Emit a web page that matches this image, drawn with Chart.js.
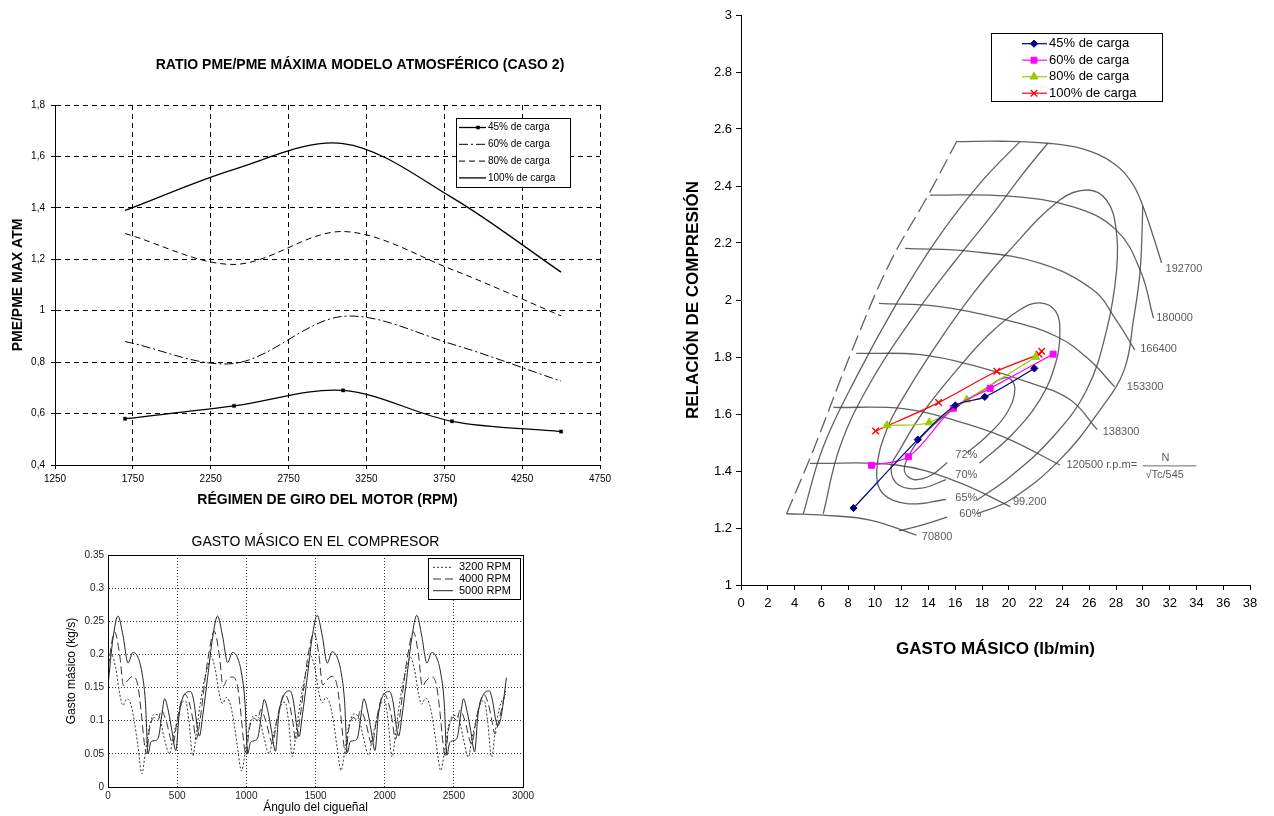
<!DOCTYPE html>
<html>
<head>
<meta charset="utf-8">
<script src="https://cdn.jsdelivr.net/npm/chart.js@4.4.1/dist/chart.umd.min.js"></script>
<style>
  html, body { margin: 0; padding: 0; background: #fff; }
  body { width: 1274px; height: 816px; position: relative; overflow: hidden; }
  canvas { position: absolute; }
  #pme { left: 0; top: 0; }
  #gasto { left: 40px; top: 525px; }
  #mapa { left: 660px; top: 0; }
</style>
</head>
<body>
<canvas id="pme" width="620" height="520"></canvas>
<canvas id="gasto" width="500" height="291"></canvas>
<canvas id="mapa" width="614" height="680"></canvas>
<script>
// ---- ratio PME chart ----
const rpm = [1700, 2400, 3100, 3800, 4500];
const pme45 = [0.58, 0.63, 0.69, 0.57, 0.53];
const pme60 = [0.88, 0.795, 0.978, 0.87, 0.726];
const pme80 = [1.30, 1.18, 1.308, 1.16, 0.98];
const pme100 = [1.39, 1.55, 1.65, 1.44, 1.15];
const rpmTicks = [1250, 1750, 2250, 2750, 3250, 3750, 4250, 4750];
const pmeTicks = [0.4, 0.6, 0.8, 1, 1.2, 1.4, 1.6, 1.8];
const pmeLabels = ['0,4', '0,6', '0,8', '1', '1,2', '1,4', '1,6', '1,8'];
const loadNames = ['45% de carga', '60% de carga', '80% de carga', '100% de carga'];

// ---- gasto masico (compresor) chart ----
const ang3200 = [0,25,55,85,108,135,165,192,216,245,270,300,337,373,405,445,470,500,530,560,585,613,640,670,700,
  720,745,775,805,828,855,885,912,936,965,990,1020,1057,1093,1125,1165,1190,1220,1250,1280,1305,1333,1360,1390,1420,
  1440,1465,1495,1525,1548,1575,1605,1632,1656,1685,1710,1740,1777,1813,1845,1885,1910,1940,1970,2000,2025,2053,2080,2110,2140,
  2160,2185,2215,2245,2268,2295,2325,2352,2376,2405,2430,2460,2497,2533,2565,2605,2630,2660,2690,2720,2745,2773,2800,2830,2875];
const flow3200 = [0.185,0.2,0.18,0.14,0.123,0.133,0.125,0.097,0.062,0.02,0.052,0.092,0.11,0.105,0.075,0.05,0.075,0.1,0.125,0.13,0.1,0.047,0.085,0.13,0.165,
  0.18,0.197,0.178,0.14,0.126,0.135,0.124,0.095,0.06,0.024,0.05,0.09,0.108,0.104,0.077,0.05,0.073,0.1,0.123,0.128,0.1,0.046,0.083,0.128,0.163,
  0.18,0.198,0.18,0.142,0.127,0.135,0.125,0.096,0.06,0.025,0.052,0.091,0.11,0.104,0.076,0.048,0.074,0.1,0.124,0.13,0.1,0.045,0.082,0.13,0.165,
  0.18,0.196,0.178,0.14,0.125,0.134,0.124,0.095,0.06,0.025,0.05,0.09,0.108,0.105,0.077,0.045,0.072,0.1,0.125,0.13,0.098,0.045,0.085,0.12,0.14];
const ang4000 = [0,48,84,112,140,180,216,240,262,278,300,337,360,385,420,469,500,530,555,590,615,637,665,700,
  720,768,804,832,860,900,936,960,982,998,1020,1057,1080,1105,1140,1189,1220,1250,1275,1310,1335,1357,1385,1420,
  1440,1488,1524,1552,1580,1620,1656,1680,1702,1718,1740,1777,1800,1825,1860,1909,1940,1970,1995,2030,2055,2077,2105,2140,
  2160,2208,2244,2272,2300,2340,2376,2400,2422,2438,2460,2497,2520,2545,2580,2629,2660,2690,2715,2750,2775,2797,2825,2875];
const flow4000 = [0.18,0.234,0.2,0.153,0.16,0.167,0.153,0.113,0.067,0.05,0.087,0.105,0.1,0.116,0.1,0.065,0.1,0.13,0.14,0.125,0.1,0.072,0.1,0.16,
  0.19,0.235,0.2,0.152,0.162,0.166,0.152,0.112,0.066,0.048,0.086,0.104,0.1,0.117,0.1,0.066,0.1,0.128,0.14,0.126,0.1,0.07,0.1,0.158,
  0.19,0.233,0.2,0.154,0.161,0.167,0.153,0.114,0.068,0.05,0.087,0.105,0.1,0.115,0.1,0.064,0.1,0.13,0.141,0.125,0.1,0.072,0.1,0.16,
  0.19,0.234,0.2,0.152,0.16,0.166,0.152,0.112,0.066,0.045,0.085,0.105,0.1,0.116,0.1,0.065,0.1,0.128,0.14,0.125,0.1,0.08,0.1,0.145];
const ang5000 = [0,36,72,108,145,180,216,245,270,290,310,340,365,390,409,438,462,490,515,548,596,620,644,661,685,
  720,756,792,828,865,900,936,965,990,1010,1030,1060,1085,1110,1129,1158,1182,1210,1235,1268,1316,1340,1364,1381,1405,
  1440,1476,1512,1548,1585,1620,1656,1685,1710,1730,1750,1780,1805,1830,1849,1878,1902,1930,1955,1988,2036,2060,2084,2101,2125,
  2160,2196,2232,2268,2305,2340,2376,2405,2430,2450,2470,2500,2525,2550,2569,2598,2622,2650,2675,2708,2756,2780,2804,2821,2845,2880];
const flow5000 = [0.153,0.224,0.258,0.229,0.187,0.203,0.196,0.173,0.13,0.05,0.068,0.07,0.075,0.11,0.133,0.113,0.085,0.055,0.11,0.138,0.144,0.13,0.092,0.077,0.108,
  0.165,0.225,0.258,0.228,0.188,0.203,0.195,0.172,0.128,0.05,0.067,0.07,0.076,0.11,0.132,0.112,0.085,0.054,0.11,0.137,0.145,0.13,0.093,0.076,0.108,
  0.165,0.226,0.259,0.229,0.187,0.204,0.196,0.173,0.13,0.052,0.068,0.07,0.075,0.11,0.133,0.113,0.086,0.055,0.11,0.138,0.144,0.129,0.092,0.077,0.107,
  0.165,0.225,0.259,0.228,0.187,0.203,0.195,0.172,0.129,0.048,0.067,0.07,0.075,0.11,0.133,0.112,0.085,0.053,0.11,0.137,0.145,0.13,0.1,0.093,0.11,0.165];
const angleTicks = [0, 500, 1000, 1500, 2000, 2500, 3000];
const flowTicks = [0, 0.05, 0.1, 0.15, 0.2, 0.25, 0.3, 0.35];
const rpmNames = ['3200 RPM', '4000 RPM', '5000 RPM'];

// ---- mapa del compresor ----
const mass45 = [8.4, 13.2, 16.0, 18.2, 21.9];
const ratio45 = [1.27, 1.51, 1.63, 1.66, 1.76];
const mass60 = [9.75, 12.5, 15.85, 18.6, 23.3];
const ratio60 = [1.42, 1.45, 1.62, 1.69, 1.81];
const mass80 = [10.9, 14.05, 16.85, 22.0];
const ratio80 = [1.56, 1.57, 1.65, 1.80];
const mass100 = [10.05, 14.75, 19.1, 22.25, 22.45];
const ratio100 = [1.54, 1.64, 1.75, 1.81, 1.82];
const massTicks = [0,2,4,6,8,10,12,14,16,18,20,22,24,26,28,30,32,34,36,38];
const ratioTicks = [1, 1.2, 1.4, 1.6, 1.8, 2, 2.2, 2.4, 2.6, 2.8, 3];

// lineas del mapa escaneado (lb/min, relacion)
const surgeLine = [[3.4,1.25],[5.4,1.474],[8.4,1.836],[11.1,2.129],[13.9,2.362],[16.1,2.556]];
const speed192700 = [[16.1,2.556],[19.5,2.557],[22.9,2.55],[25.5,2.53],[27.8,2.48],[29.2,2.41],[30.0,2.33],[30.8,2.22],[31.4,2.13]];
const speed180000 = [[14.1,2.368],[19.8,2.365],[24.8,2.327],[28.0,2.246],[29.8,2.105],[30.8,1.936]];
const speed166400 = [[12.24,2.181],[17.3,2.17],[22.3,2.129],[26.3,2.035],[28.0,1.93],[29.4,1.825]];
const speed153300 = [[10.3,1.988],[14.85,1.977],[19.8,1.93],[23.6,1.871],[26.0,1.79],[27.9,1.695]];
const speed138300 = [[8.6,1.813],[13.4,1.808],[17.6,1.767],[21.6,1.709],[24.6,1.649],[26.6,1.545]];
const speed120500 = [[6.9,1.623],[12.1,1.619],[15.85,1.579],[19.6,1.52],[23.8,1.421]];
const speed99200 = [[5.15,1.427],[11.6,1.421],[16.1,1.363],[20.1,1.275]];
const speed70800 = [[3.4,1.25],[6.14,1.245],[9.63,1.228],[13.1,1.175]];
const effA = [[4.65,1.25],[6.14,1.485],[8.63,1.731],[11.62,1.988],[14.6,2.211],[17.84,2.409],[20.8,2.555]];
const effB = [[6.14,1.25],[7.39,1.485],[9.63,1.708],[12.86,1.941],[15.85,2.129],[18.83,2.304],[21.0,2.44],[22.9,2.55]];
const eff60 = [[30.0,2.33],[29.8,2.105],[29.3,1.93],[28.6,1.754],[26.8,1.614],[23.8,1.439],[20.1,1.298],[17.6,1.25]];
const eff60low = [[15.4,1.238],[13.5,1.21],[11.8,1.19]];
const eff65 = [[15.3,1.30],[12.5,1.285],[10.6,1.32],[10.13,1.40],[10.87,1.544],[12.4,1.68],[14.85,1.86],[17.34,2.023],[19.83,2.163],
  [23.8,2.351],[25.9,2.386],[27.3,2.35],[28.0,2.25],[28.04,2.105],[27.3,1.895],[25.8,1.684],[23.3,1.52],[20.07,1.379],[17.6,1.297]];
const eff70 = [[15.3,1.37],[13.5,1.34],[11.8,1.35],[11.2,1.41],[11.8,1.47],[13.5,1.6],[16.1,1.754],[18.6,1.883],[20.8,1.965],
  [22.3,1.99],[23.5,1.96],[23.8,1.88],[23.5,1.78],[22.3,1.649],[20.07,1.52],[17.8,1.427]];
const eff72 = [[15.4,1.43],[14.2,1.385],[12.9,1.37],[12.2,1.4],[12.6,1.46],[13.5,1.52],[15.35,1.6],[18.1,1.684],[19.8,1.728],
  [20.45,1.69],[19.8,1.6],[18.3,1.52],[16.9,1.465]];

const mapNotes = [
  ['192700', 31.7, 2.11], ['180000', 31.0, 1.936], ['166400', 29.8, 1.828], ['153300', 28.8, 1.694],
  ['138300', 27.0, 1.538], ['120500 r.p.m=', 24.3, 1.42], ['99.200', 20.3, 1.292], ['70800', 13.5, 1.17],
  ['72%', 16.0, 1.456], ['70%', 16.0, 1.386], ['65%', 16.0, 1.304], ['60%', 16.3, 1.25],
  ['N', 31.4, 1.447], ['\u221ATc/545', 30.2, 1.386]
];

const FONT = "Arial, 'Liberation Sans', sans-serif";
Chart.defaults.font.family = FONT;
Chart.defaults.color = '#000';

const pair = (xs, ys) => xs.map((x, i) => ({x: x, y: ys[i]}));
const pts = list => list.map(p => ({x: p[0], y: p[1]}));
const fixedTicks = values => scale => { scale.ticks = values.map(v => ({value: v})); };
const plain = v => String(Math.round(v * 100) / 100);

function drawMarker(ctx, ds, x, y) {
  if (!ds.pointRadius) return;
  ctx.save();
  ctx.setLineDash([]);
  ctx.fillStyle = ds.pointBackgroundColor || ds.borderColor;
  ctx.strokeStyle = ds.pointBorderColor || ds.borderColor;
  ctx.lineWidth = ds.pointBorderWidth || 1;
  Chart.helpers.drawPoint(ctx, {pointStyle: ds.pointStyle, radius: ds.pointRadius, rotation: 0, borderWidth: ds.pointBorderWidth || 1}, x, y);
  ctx.restore();
}

// legend drawn as a box at a fixed place in the canvas
const boxLegend = {
  id: 'boxLegend',
  afterDraw(chart, args, opts) {
    const ctx = chart.ctx;
    ctx.save();
    ctx.fillStyle = '#fff';
    ctx.fillRect(opts.left, opts.top, opts.width, opts.height);
    ctx.strokeStyle = '#000';
    ctx.lineWidth = 1;
    ctx.setLineDash([]);
    ctx.strokeRect(opts.left + 0.5, opts.top + 0.5, opts.width, opts.height);
    ctx.font = opts.fontSize + 'px ' + FONT;
    ctx.textBaseline = 'middle';
    for (let i = 0; i < opts.count; i++) {
      const ds = chart.data.datasets[i];
      const y = opts.top + opts.first + i * opts.gap;
      ctx.strokeStyle = ds.borderColor;
      ctx.lineWidth = ds.borderWidth;
      ctx.setLineDash(ds.borderDash || []);
      ctx.beginPath();
      ctx.moveTo(opts.left + opts.lineFrom, y);
      ctx.lineTo(opts.left + opts.lineTo, y);
      ctx.stroke();
      drawMarker(ctx, ds, opts.left + opts.markAt, y);
      ctx.fillStyle = '#000';
      ctx.fillText(ds.label, opts.left + opts.textFrom, y);
    }
    ctx.restore();
  }
};

const chartTitle = {
  id: 'chartTitle',
  afterDraw(chart, args, opts) {
    const ctx = chart.ctx;
    ctx.save();
    ctx.font = opts.font;
    ctx.fillStyle = '#000';
    ctx.textAlign = 'center';
    ctx.textBaseline = 'middle';
    ctx.fillText(opts.text, opts.x, opts.y);
    ctx.restore();
  }
};

const frame = {
  id: 'frame',
  afterDatasetsDraw(chart) {
    const {ctx, chartArea: a} = chart;
    ctx.save();
    ctx.strokeStyle = '#000';
    ctx.lineWidth = 1;
    ctx.setLineDash([]);
    ctx.strokeRect(Math.round(a.left) + 0.5, Math.round(a.top) + 0.5, Math.round(a.right - a.left), Math.round(a.bottom - a.top));
    ctx.restore();
  }
};

const mapText = {
  id: 'mapText',
  beforeDatasetsDraw(chart) {
    const {ctx, scales: {x, y}} = chart;
    ctx.save();
    ctx.font = '11px ' + FONT;
    ctx.fillStyle = '#5a5a5a';
    ctx.textBaseline = 'middle';
    mapNotes.forEach(n => ctx.fillText(n[0], x.getPixelForValue(n[1]), y.getPixelForValue(n[2])));
    ctx.strokeStyle = '#6a6a6a';
    ctx.lineWidth = 1;
    ctx.beginPath();
    ctx.moveTo(x.getPixelForValue(30.0), y.getPixelForValue(1.418));
    ctx.lineTo(x.getPixelForValue(34.0), y.getPixelForValue(1.418));
    ctx.stroke();
    ctx.restore();
  }
};

// ================= chart 1 =================
new Chart(document.getElementById('pme'), {
  type: 'line',
  data: {
    datasets: [
      {label: loadNames[0], data: pair(rpm, pme45), borderColor: '#000', borderWidth: 1.3, tension: 0.33,
        pointStyle: 'rect', pointRadius: 2.2, pointBackgroundColor: '#000', pointBorderColor: '#000', pointBorderWidth: 0.5},
      {label: loadNames[1], data: pair(rpm, pme60), borderColor: '#000', borderWidth: 1, borderDash: [9, 3, 2, 3], tension: 0.33, pointRadius: 0},
      {label: loadNames[2], data: pair(rpm, pme80), borderColor: '#000', borderWidth: 1, borderDash: [6, 4], tension: 0.33, pointRadius: 0},
      {label: loadNames[3], data: pair(rpm, pme100), borderColor: '#000', borderWidth: 1.3, tension: 0.33, pointRadius: 0}
    ]
  },
  options: {
    responsive: false, animation: false, events: [], devicePixelRatio: 1,
    layout: {padding: {top: 105, right: 20, left: 0, bottom: 0}},
    plugins: {
      legend: {display: false}, tooltip: {enabled: false},
      chartTitle: {text: 'RATIO PME/PME MÁXIMA MODELO ATMOSFÉRICO (CASO 2)', x: 360, y: 65, font: 'bold 14px ' + FONT},
      boxLegend: {left: 456, top: 118, width: 114, height: 69, first: 9.5, gap: 16.8, lineFrom: 3, lineTo: 30, markAt: 22, textFrom: 32, fontSize: 10, count: 4}
    },
    scales: {
      x: {
        type: 'linear', min: 1250, max: 4750,
        afterBuildTicks: fixedTicks(rpmTicks),
        afterFit: s => { s.height = 55; },
        ticks: {font: {size: 10}, color: '#000', padding: 4, maxRotation: 0, autoSkip: false, callback: plain},
        grid: {color: '#000', lineWidth: 1, tickLength: 4, tickColor: '#000'},
        border: {color: '#000', width: 1, dash: [5, 4]},
        title: {display: true, text: 'RÉGIMEN DE GIRO DEL MOTOR (RPM)', color: '#000', font: {size: 14, weight: 'bold'}, padding: {top: 0, bottom: 11.6}}
      },
      y: {
        type: 'linear', min: 0.4, max: 1.8,
        afterBuildTicks: fixedTicks(pmeTicks),
        afterFit: s => { s.width = 55; },
        ticks: {font: {size: 10}, color: '#000', padding: 6, callback: (v, i) => pmeLabels[i]},
        grid: {color: '#000', lineWidth: 1, tickLength: 4, tickColor: '#000'},
        border: {color: '#000', width: 1, dash: [5, 4]},
        title: {display: true, text: 'PME/PME MAX ATM', color: '#000', font: {size: 14, weight: 'bold'}, padding: {top: 9.6, bottom: 0}}
      }
    }
  },
  plugins: [boxLegend, chartTitle]
});

// ================= chart 2 =================
new Chart(document.getElementById('gasto'), {
  type: 'line',
  data: {
    datasets: [
      {label: rpmNames[0], data: pair(ang3200, flow3200), borderColor: '#333', borderWidth: 1, borderDash: [2, 2], pointRadius: 0, cubicInterpolationMode: 'monotone'},
      {label: rpmNames[1], data: pair(ang4000, flow4000), borderColor: '#333', borderWidth: 1, borderDash: [8, 4], pointRadius: 0, cubicInterpolationMode: 'monotone'},
      {label: rpmNames[2], data: pair(ang5000, flow5000), borderColor: '#222', borderWidth: 1, pointRadius: 0, cubicInterpolationMode: 'monotone'}
    ]
  },
  options: {
    responsive: false, animation: false, events: [], devicePixelRatio: 1,
    layout: {padding: {top: 0, right: 17, left: 0, bottom: 0}},
    plugins: {
      legend: {display: false}, tooltip: {enabled: false},
      title: {display: true, fullSize: false, text: 'GASTO MÁSICO EN EL COMPRESOR', color: '#000', font: {size: 14, weight: 'normal'}, padding: {top: 8.6, bottom: 4.6}},
      boxLegend: {left: 388, top: 33, width: 92, height: 41, first: 9.3, gap: 11.7, lineFrom: 5, lineTo: 25, markAt: 15, textFrom: 31, fontSize: 11, count: 3}
    },
    scales: {
      x: {
        type: 'linear', min: 0, max: 3000,
        afterBuildTicks: fixedTicks(angleTicks),
        afterFit: s => { s.height = 29; },
        ticks: {font: {size: 10}, color: '#222', padding: 3, maxRotation: 0, autoSkip: false, callback: plain},
        grid: {color: '#000', lineWidth: 0.8, drawTicks: false},
        border: {color: '#000', width: 1, dash: [1, 2]},
        title: {display: true, text: 'Ángulo del cigueñal', color: '#000', font: {size: 12}, padding: {top: 0, bottom: 0.8}}
      },
      y: {
        type: 'linear', min: 0, max: 0.35,
        afterBuildTicks: fixedTicks(flowTicks),
        afterFit: s => { s.width = 68; },
        ticks: {font: {size: 10}, color: '#222', padding: 4, callback: plain},
        grid: {color: '#000', lineWidth: 0.8, drawTicks: false},
        border: {color: '#000', width: 1, dash: [1, 2]},
        title: {display: true, text: 'Gasto másico (kg/s)', color: '#000', font: {size: 12}, padding: {top: 24.8, bottom: 0}}
      }
    }
  },
  plugins: [boxLegend, frame]
});

// ================= chart 3 =================
const mapStyle = {borderColor: 'rgba(70,70,70,0.85)', borderWidth: 1.3, pointRadius: 0, tension: 0.4};
const mapLines = [speed192700, speed180000, speed166400, speed153300, speed138300, speed120500, speed99200, speed70800,
  effA, effB, eff60, eff60low, eff65, eff70, eff72].map(l => Object.assign({label: '', data: pts(l)}, mapStyle));
mapLines.push(Object.assign({label: '', data: pts(surgeLine)}, mapStyle, {borderDash: [16, 6]}));

new Chart(document.getElementById('mapa'), {
  type: 'line',
  data: {
    datasets: [
      {label: loadNames[0], data: pair(mass45, ratio45), borderColor: '#000080', borderWidth: 1.2, tension: 0.33,
        pointStyle: 'rectRot', pointRadius: 3.6, pointBackgroundColor: '#000080', pointBorderColor: '#000080', pointBorderWidth: 1},
      {label: loadNames[1], data: pair(mass60, ratio60), borderColor: '#FF00FF', borderWidth: 1.2, tension: 0.33,
        pointStyle: 'rect', pointRadius: 4.2, pointBackgroundColor: '#FF00FF', pointBorderColor: '#FF00FF', pointBorderWidth: 1},
      {label: loadNames[2], data: pair(mass80, ratio80), borderColor: '#99CC00', borderWidth: 1.2, tension: 0.33,
        pointStyle: 'triangle', pointRadius: 4.6, pointBackgroundColor: '#99CC00', pointBorderColor: '#99CC00', pointBorderWidth: 1},
      {label: loadNames[3], data: pair(mass100, ratio100), borderColor: '#FF0000', borderWidth: 1.2, tension: 0.33,
        pointStyle: 'crossRot', pointRadius: 4.6, pointBackgroundColor: '#FF0000', pointBorderColor: '#FF0000', pointBorderWidth: 1.4}
    ].concat(mapLines)
  },
  options: {
    responsive: false, animation: false, events: [], devicePixelRatio: 1,
    layout: {padding: {top: 15, right: 24, left: 0, bottom: 0}},
    plugins: {
      legend: {display: false}, tooltip: {enabled: false},
      boxLegend: {left: 331, top: 33, width: 171, height: 68, first: 10.7, gap: 16.5, lineFrom: 31, lineTo: 56, markAt: 43, textFrom: 58, fontSize: 13, count: 4}
    },
    scales: {
      x: {
        type: 'linear', min: 0, max: 38,
        afterBuildTicks: fixedTicks(massTicks),
        afterFit: s => { s.height = 95; },
        ticks: {font: {size: 13}, color: '#000', padding: 6, maxRotation: 0, autoSkip: false, callback: plain},
        grid: {drawOnChartArea: false, tickLength: 5, tickColor: '#000'},
        border: {color: '#000', width: 1},
        title: {display: true, text: 'GASTO MÁSICO (lb/min)', color: '#000', font: {size: 17, weight: 'bold'}, padding: {top: 0, bottom: 20.8}}
      },
      y: {
        type: 'linear', min: 1, max: 3,
        afterBuildTicks: fixedTicks(ratioTicks),
        afterFit: s => { s.width = 81; },
        ticks: {font: {size: 13}, color: '#000', padding: 4, callback: plain},
        grid: {drawOnChartArea: false, tickLength: 5, tickColor: '#000'},
        border: {color: '#000', width: 1},
        title: {display: true, text: 'RELACIÓN DE COMPRESIÓN', color: '#000', font: {size: 17, weight: 'bold'}, padding: {top: 22.8, bottom: 0}}
      }
    }
  },
  plugins: [boxLegend, mapText]
});
</script>
</body>
</html>
